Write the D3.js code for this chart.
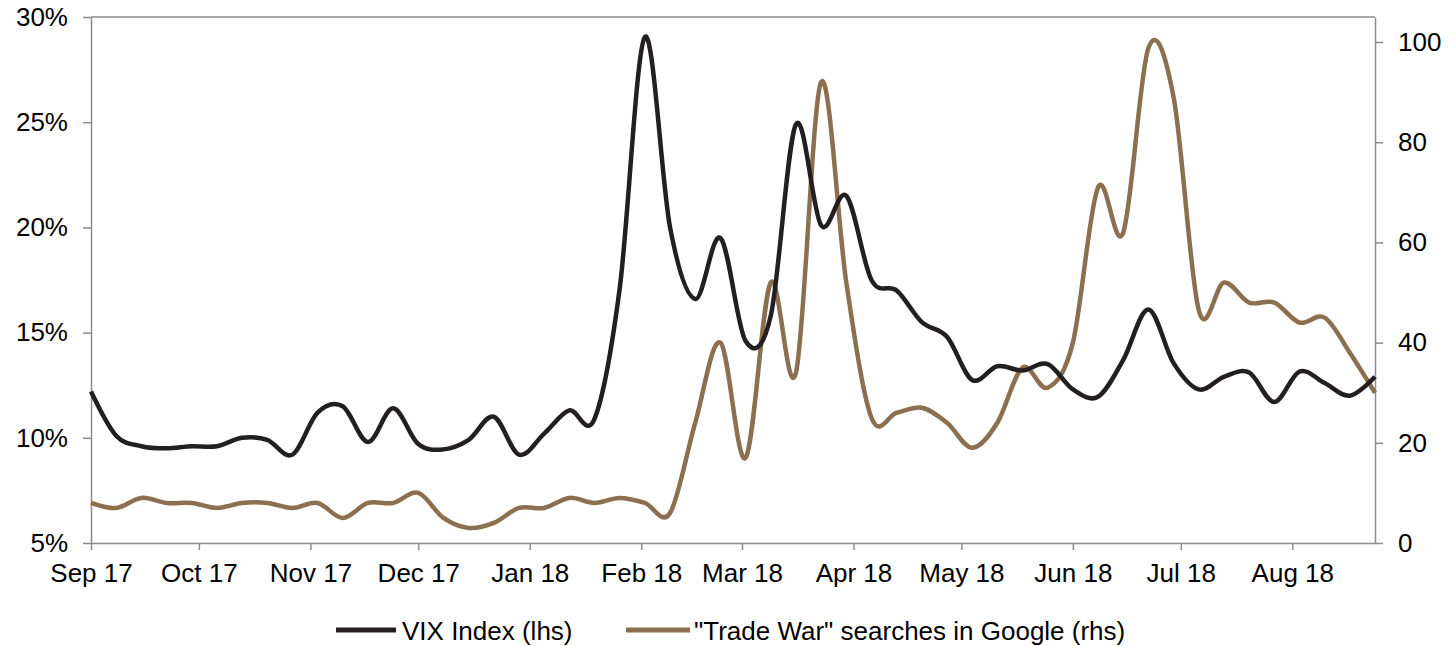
<!DOCTYPE html>
<html>
<head>
<meta charset="utf-8">
<script src="https://cdn.jsdelivr.net/npm/d3@7"></script>
<style>
  html, body { margin: 0; padding: 0; background: #fff; }
  svg { display: block; font-family: "Liberation Sans", Arial, sans-serif; }
</style>
</head>
<body>
<svg id="chart" width="1451" height="646"></svg>
<script>
// Weekly observations
const weeks = [
  "2017-09-01","2017-09-08","2017-09-15","2017-09-22","2017-09-29",
  "2017-10-06","2017-10-13","2017-10-20","2017-10-27",
  "2017-11-03","2017-11-10","2017-11-17","2017-11-24",
  "2017-12-01","2017-12-08","2017-12-15","2017-12-22","2017-12-29",
  "2018-01-05","2018-01-12","2018-01-19","2018-01-26",
  "2018-02-02","2018-02-09","2018-02-16","2018-02-23",
  "2018-03-02","2018-03-09","2018-03-16","2018-03-23","2018-03-30",
  "2018-04-06","2018-04-13","2018-04-20","2018-04-27",
  "2018-05-04","2018-05-11","2018-05-18","2018-05-25",
  "2018-06-01","2018-06-08","2018-06-15","2018-06-22","2018-06-29",
  "2018-07-06","2018-07-13","2018-07-20","2018-07-27",
  "2018-08-03","2018-08-10","2018-08-17","2018-08-24"
];

// VIX Index, % (left axis)
const vixValues = [
  12.2, 10.1, 9.6, 9.5, 9.6,
  9.6, 10.0, 9.9, 9.2,
  11.2, 11.5, 9.8, 11.4,
  9.7, 9.45, 9.9, 11.0, 9.2,
  10.2, 11.3, 10.9, 17.1,
  29.05, 20.0, 16.6, 19.5,
  14.6, 15.8, 24.9, 20.1, 21.5,
  17.5, 17.0, 15.5, 14.8,
  12.75, 13.4, 13.2, 13.5,
  12.3, 11.95, 13.7, 16.1, 13.55,
  12.3, 12.9, 13.1, 11.7,
  13.15, 12.6, 12.0, 12.9
];

// "Trade War" Google search interest (right axis)
const searchValues = [
  8, 7, 9, 8, 8,
  7, 8, 8, 7,
  8, 5, 8, 8,
  10, 5, 3, 4, 7,
  7, 9, 8, 9,
  8, 6, 24, 40,
  17, 52, 34, 92, 52,
  25, 26, 27, 24,
  19, 24, 35, 31,
  40, 71, 62, 98.8, 89,
  46.5, 52, 48, 48,
  44, 45, 38, 30
];

const leftTicks = [5, 10, 15, 20, 25, 30];
const rightTicks = [0, 20, 40, 60, 80, 100];

const seriesNames = ["VIX Index (lhs)", "\"Trade War\" searches in Google (rhs)"];
const seriesColors = ["#231f20", "#8b6f4e"];

const parse = d3.utcParse("%Y-%m-%d");
const dates = weeks.map(parse);

const svg = d3.select("#chart");
const plot = { left: 91, right: 1375, top: 17, bottom: 543 };
const axisColor = "#8c8c8c";
const fontSize = "26px";

const x = d3.scaleUtc()
  .domain([dates[0], dates[dates.length - 1]])
  .range([plot.left, plot.right]);
const yL = d3.scaleLinear().domain([5, 30]).range([plot.bottom, plot.top]);
const yR = d3.scaleLinear().domain([0, 105]).range([plot.bottom, plot.top]);

// frame top edge
svg.append("line")
  .attr("x1", plot.left).attr("x2", plot.right)
  .attr("y1", plot.top).attr("y2", plot.top)
  .attr("stroke", axisColor).attr("stroke-width", 1.5);

function styleAxis(g) {
  g.selectAll(".domain").attr("stroke", axisColor).attr("stroke-width", 1.5);
  g.selectAll(".tick line").attr("stroke", axisColor).attr("stroke-width", 1.5);
  g.selectAll(".tick text")
    .attr("fill", "#000")
    .style("font-size", fontSize)
    .style("font-family", "'Liberation Sans', Arial, sans-serif");
}

// left axis
svg.append("g")
  .attr("transform", `translate(${plot.left},0)`)
  .call(d3.axisLeft(yL).tickValues(leftTicks).tickFormat(d => d + "%")
    .tickSize(8).tickSizeOuter(0).tickPadding(15))
  .call(styleAxis);

// right axis
svg.append("g")
  .attr("transform", `translate(${plot.right},0)`)
  .call(d3.axisRight(yR).tickValues(rightTicks)
    .tickSize(8).tickSizeOuter(0).tickPadding(15))
  .call(styleAxis);

// bottom axis, one tick per month
svg.append("g")
  .attr("transform", `translate(0,${plot.bottom})`)
  .call(d3.axisBottom(x).ticks(d3.utcMonth.every(1)).tickFormat(d3.utcFormat("%b %y"))
    .tickSize(7).tickSizeOuter(0).tickPadding(14))
  .call(styleAxis);

// smoothed series lines
const smooth = d3.curveCardinal.tension(0);
const vixLine = d3.line().x((d, i) => x(dates[i])).y(d => yL(d)).curve(smooth);
const searchLine = d3.line().x((d, i) => x(dates[i])).y(d => yR(d)).curve(smooth);

svg.append("path")
  .datum(searchValues)
  .attr("d", searchLine)
  .attr("fill", "none")
  .attr("stroke", seriesColors[1])
  .attr("stroke-width", 4.5)
  .attr("stroke-linejoin", "round");

svg.append("path")
  .datum(vixValues)
  .attr("d", vixLine)
  .attr("fill", "none")
  .attr("stroke", seriesColors[0])
  .attr("stroke-width", 4.5)
  .attr("stroke-linejoin", "round");

// legend
const legendItems = [
  { x1: 336, x2: 396, tx: 402 },
  { x1: 626, x2: 690, tx: 694 }
];
const legend = svg.append("g");
legendItems.forEach((it, i) => {
  legend.append("line")
    .attr("x1", it.x1).attr("x2", it.x2)
    .attr("y1", 630).attr("y2", 630)
    .attr("stroke", seriesColors[i]).attr("stroke-width", 5);
  legend.append("text")
    .attr("x", it.tx).attr("y", 640)
    .style("font-size", fontSize)
    .attr("fill", "#000")
    .text(seriesNames[i]);
});
</script>
</body>
</html>
